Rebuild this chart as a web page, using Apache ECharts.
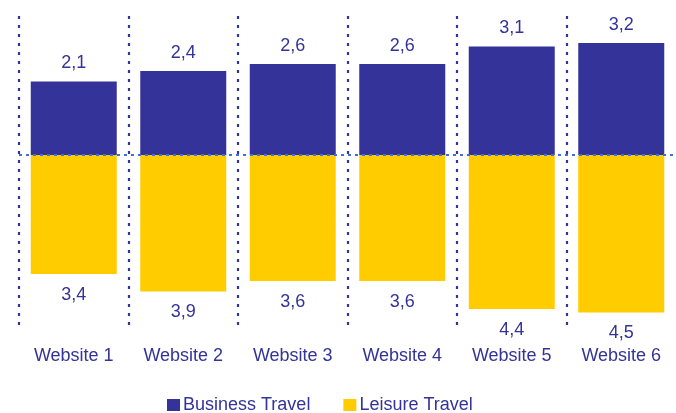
<!DOCTYPE html>
<html>
<head>
<meta charset="utf-8">
<script src="https://cdn.jsdelivr.net/npm/echarts@6/dist/echarts.min.js"></script>
<style>html,body{margin:0;padding:0;background:#fff}#c{width:676px;height:413px}</style>
</head>
<body>
<div id="c"></div>
<script>
var categories = ['Website 1', 'Website 2', 'Website 3', 'Website 4', 'Website 5', 'Website 6'];
var businessTravel = [2.1, 2.4, 2.6, 2.6, 3.1, 3.2];
var leisureTravel = [3.4, 3.9, 3.6, 3.6, 4.4, 4.5];
var seriesNames = ['Business Travel', 'Leisure Travel'];

var navy = '#333399';
var gold = '#FFCC00';
var font = '"Liberation Sans", Arial, sans-serif';
function fmt(v) { return Math.abs(v).toFixed(1).replace('.', ','); }

var chart = echarts.init(document.getElementById('c'), null, {renderer: 'canvas'});
chart.setOption({
  animation: false,
  backgroundColor: '#fff',
  grid: {left: 19, top: 16, width: 660, height: 309, containLabel: false},
  legend: {
    data: seriesNames,
    left: 167, top: 396, padding: 0,
    icon: 'rect', itemWidth: 13, itemHeight: 12, itemGap: 33,
    textStyle: {color: navy, fontSize: 18, fontFamily: font, padding: [0, 0, 0, -2]}
  },
  xAxis: {
    type: 'category',
    data: categories,
    boundaryGap: true,
    axisLine: {show: false},
    axisTick: {show: false},
    axisLabel: {color: navy, fontSize: 18, fontFamily: font, margin: 22},
    splitLine: {show: true, showMinLine: true, showMaxLine: false,
      lineStyle: {color: navy, width: 2.2, type: [3, 6]}}
  },
  yAxis: {
    type: 'value', min: -4.86, max: 3.97,
    show: false, splitLine: {show: false}
  },
  series: [
    {
      name: seriesNames[0], type: 'bar', stack: 's', barWidth: 86,
      itemStyle: {color: navy},
      data: businessTravel,
      label: {show: true, position: 'top', distance: 9, color: navy, fontSize: 18, fontFamily: font,
        formatter: function (p) { return fmt(p.value); }},
      markLine: {
        silent: true, symbol: 'none', label: {show: false}, z: 10,
        lineStyle: {color: '#3f6fd8', width: 2, type: [3, 4]},
        data: [{yAxis: 0}]
      },
      z: 2
    },
    {
      name: seriesNames[1], type: 'bar', stack: 's', barWidth: 86,
      itemStyle: {color: gold},
      data: leisureTravel.map(function (v) { return -v; }),
      label: {show: true, position: 'bottom', distance: 12, color: navy, fontSize: 18, fontFamily: font,
        formatter: function (p) { return fmt(p.value); }},
      z: 2
    }
  ]
});
</script>
</body>
</html>
